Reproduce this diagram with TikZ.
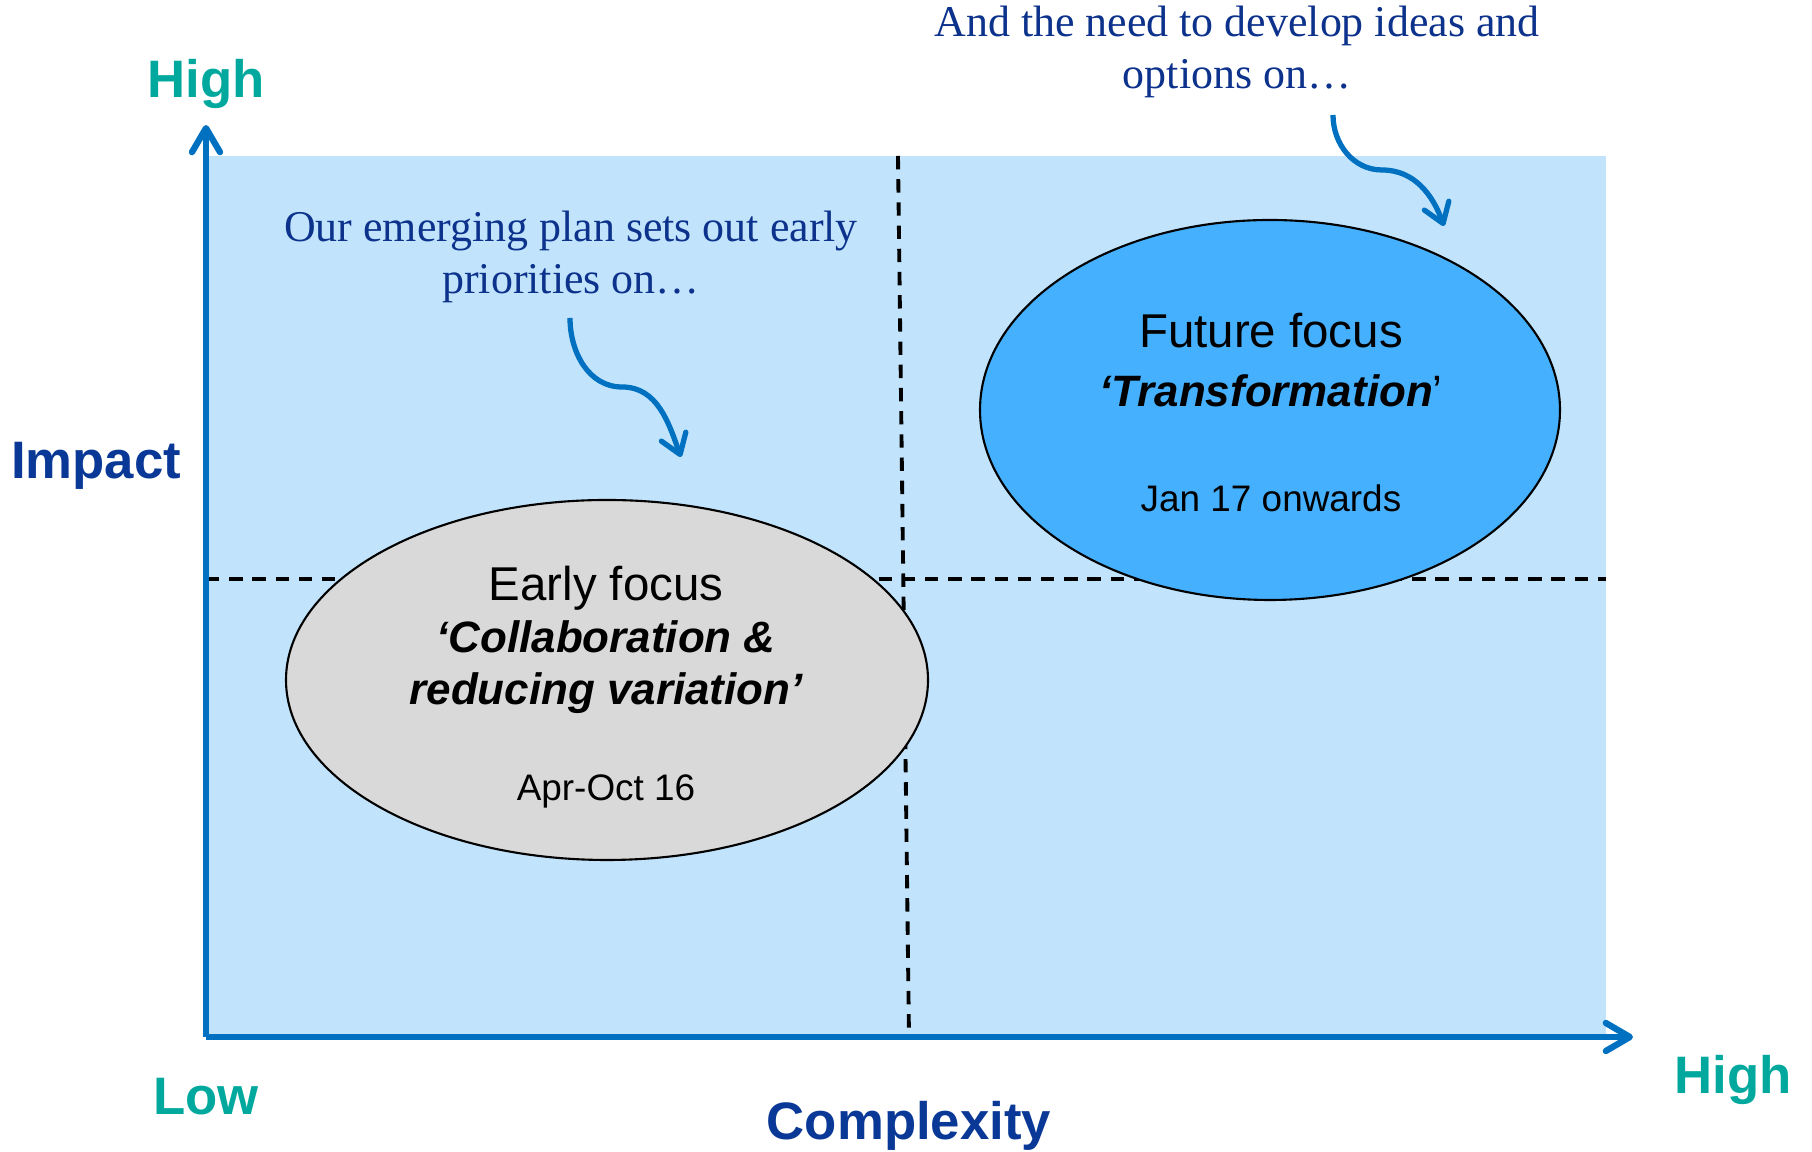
\documentclass[tikz,border=0pt]{standalone}
\usepackage{fontspec}
\setmainfont{Liberation Sans}
\newfontfamily\notefont{Liberation Serif}
\usetikzlibrary{shapes.geometric, arrows.meta}

\definecolor{axisblue}{RGB}{0,112,192}
\definecolor{panelblue}{RGB}{193,228,252}
\definecolor{futureblue}{RGB}{69,176,253}
\definecolor{earlygray}{RGB}{217,217,217}
\definecolor{levelteal}{RGB}{0,168,157}
\definecolor{titlenavy}{RGB}{10,56,150}
\definecolor{notenavy}{RGB}{12,50,140}

\begin{document}
\begin{tikzpicture}[
    axis/.style={line width=1.8pt, axisblue, -{Straight Barb[length=2.4mm,width=2.8mm,round]}},
    divider/.style={black, line width=1.1pt, dash pattern=on 3.8pt off 2.8pt},
    bubble/.style={ellipse, draw=black, line width=0.6pt, inner sep=0pt},
    pointer/.style={axisblue, line width=1.5pt, -{Straight Barb[length=1.9mm,width=2.6mm,round]}},
    note/.style={font=\notefont\fontsize{12.5}{15}\selectfont, text=notenavy, align=center},
    level/.style={font=\bfseries\fontsize{15}{18}\selectfont, text=levelteal},
    axislabel/.style={font=\bfseries\fontsize{15}{18}\selectfont, text=titlenavy},
    bubbletitle/.style={font=\fontsize{13.5}{16}\selectfont},
    bubbletheme/.style={font=\bfseries\itshape\fontsize{12.5}{14.8}\selectfont, align=center},
    bubbledate/.style={font=\fontsize{10.5}{12}\selectfont}
    ]
        \useasboundingbox (0,0) rectangle (18.12,11.52);

        % Corners of the chart
        \coordinate (origin) at (2.06,1.15);
        \coordinate (ytip) at (2.06,10.27);
        \coordinate (xtip) at (16.33,1.15);

        % Background panel
        \fill[panelblue] (origin) rectangle (16.06,9.96);

        % Quadrant dividers
        \coordinate (vtop) at (8.98,9.96);
        \coordinate (vbot) at (9.09,1.15);
        \coordinate (hleft) at (2.06,5.73);
        \coordinate (hright) at (16.06,5.73);
        \draw[divider] (vtop) -- (vbot);
        \draw[divider] (hleft) -- (hright);

        % Focus areas
        \node[bubble, fill=earlygray, minimum width=6.42cm, minimum height=3.6cm] (early) at (6.07,4.72) {};
        \node[bubble, fill=futureblue, minimum width=5.8cm, minimum height=3.8cm] (future) at (12.70,7.42) {};

        \node[bubbletitle] (earlytitle) at (6.06,5.64) {Early focus};
        \node[bubbletheme] (earlytheme) at (6.06,4.85) {‘\textit{Collaboration \&}\\reducing variation’};
        \node[bubbledate] (earlydate) at (6.06,3.61) {Apr-Oct 16};

        \node[bubbletitle] (futuretitle) at (12.71,8.21) {Future focus};
        \node[bubbletheme] (futuretheme) at (12.71,7.61) {‘Transformation\normalfont’};
        \node[bubbledate] (futuredate) at (12.71,6.54) {Jan 17 onwards};

        % Axes
        \draw[axis] (origin) -- (ytip);
        \draw[axis] (origin) -- (xtip);

        % Axis labels
        \node[level] (yhigh) at (2.06,10.68) {High};
        \node[level] (xlow) at (2.06,0.55) {Low};
        \node[level] (xhigh) at (17.33,0.72) {High};
        \node[axislabel] (impact) at (0.96,6.86) {Impact};
        \node[axislabel] (complexity) at (9.09,0.26) {Complexity};

        % Notes with their pointers
        \node[note] (earlynote) at (5.71,8.95) {Our emerging plan sets out early\\priorities on\ldots};
        \node[note] (futurenote) at (12.37,11.0) {And the need to develop ideas and\\options on\ldots};

        \coordinate (p1start) at (5.70,8.34);
        \coordinate (p1bend) at (6.22,7.65);
        \coordinate (p1end) at (6.81,6.95);
        \draw[pointer] (p1start) to[out=-90,in=180] (p1bend) to[out=0,in=110] (p1end);

        \coordinate (p2start) at (13.33,10.37);
        \coordinate (p2bend) at (13.82,9.82);
        \coordinate (p2end) at (14.44,9.26);
        \draw[pointer] (p2start) to[out=-90,in=180] (p2bend) to[out=0,in=110] (p2end);
    \end{tikzpicture}
\end{document}
